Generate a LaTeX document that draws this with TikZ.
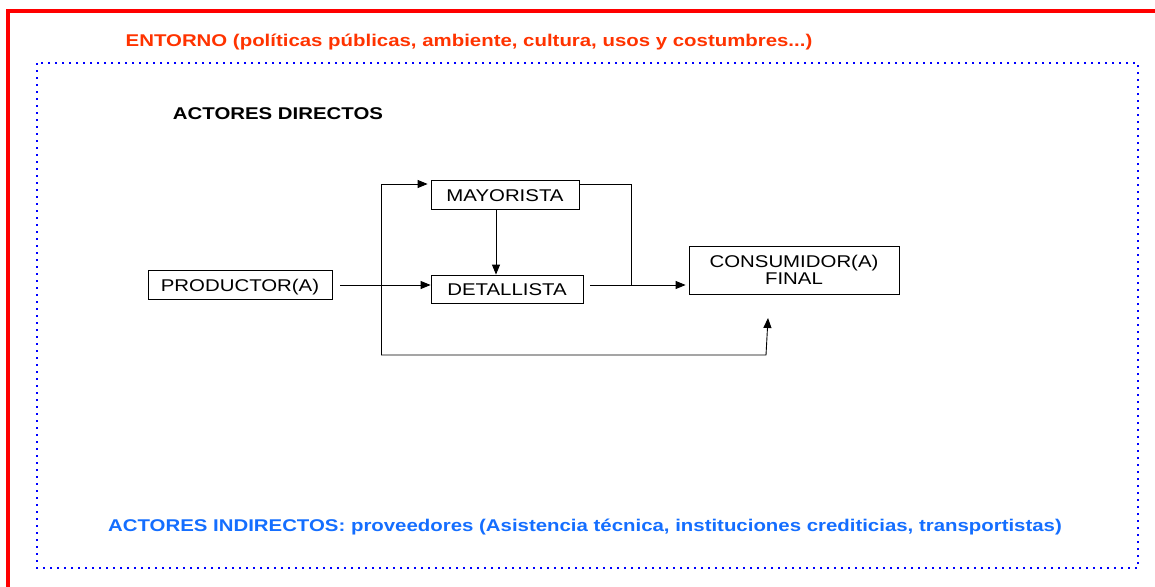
\documentclass[tikz,border=0pt]{standalone}
\usepackage{fontspec}
\setmainfont{Liberation Sans}[FakeStretch=1.2]
\usetikzlibrary{positioning,arrows.meta}
\definecolor{entorno}{RGB}{255,51,0}
\definecolor{indirecto}{RGB}{20,110,255}

\begin{document}
\begin{tikzpicture}[x=1pt, y=-1pt, >={Triangle[length=10pt,width=8pt]}]
            \tikzstyle{titulo}  = [font=\bfseries\fontsize{17}{18}\selectfont, inner sep=0pt]
            \tikzstyle{actor}   = [draw, line width=0.8pt, inner sep=0pt, minimum height=29pt, text height=12pt, text depth=0pt, font=\fontsize{17}{17}\selectfont]
            \tikzstyle{flujo}   = [draw, line width=0.9pt]
            \tikzstyle{marco}   = [draw=red, line width=3.6pt]
            \tikzstyle{entorno} = [draw=blue, line width=2pt, dash pattern=on 2pt off 5pt]

            \useasboundingbox (0,0) rectangle (1155,586);
            \begin{scope}
                \clip (0,0) rectangle (1155,586);
                \draw[marco] (8,11) rectangle (1200,640);
            \end{scope}
            \draw[entorno] (37,63) rectangle (1138,568);

            \node[titulo, text=entorno] (entorno) at (469,42) {ENTORNO (políticas públicas, ambiente, cultura, usos y costumbres...)};
            \node[titulo] (directos) at (278,114) {ACTORES DIRECTOS};
            \node[titulo, text=indirecto] (indirectos) at (585,527) {ACTORES INDIRECTOS: proveedores (Asistencia técnica, instituciones crediticias, transportistas)};

            \node[actor, minimum width=184pt] (productor) at (240,285) {PRODUCTOR(A)};
            \node[actor, minimum width=148pt] (mayorista) at (505,195) {MAYORISTA};
            \node[actor, minimum width=152pt, minimum height=28pt] (detallista) at (507,289) {DETALLISTA};
            \node[actor, minimum width=210pt, minimum height=48pt, text height=, text depth=, align=center] (consumidor) at (794,270) {CONSUMIDOR(A)\\FINAL};

            \draw[flujo, ->, shorten <=8pt] (productor.east) -- (productor.east -| detallista.west);
            \draw[flujo, ->] ([xshift=-9pt]mayorista.south) -- ([xshift=-11pt]detallista.north);
            \draw[flujo, ->, shorten <=7pt, shorten >=3pt] ([yshift=4pt]detallista.east) -- ([yshift=4pt]detallista.east -| consumidor.west);

            % Enlace mayorista
            \coordinate (union) at (631,285);
            \draw[flujo] ([yshift=11pt]mayorista.east) -| (union);

            % Venta directa
            \coordinate (esquina) at (381,355);
            \coordinate (retorno) at (766,355);
            \coordinate (llegada) at (768,318);
            \draw[flujo, ->, shorten >=3pt] (esquina) |- ([yshift=11pt]mayorista.west);
            \draw[flujo, ->] (esquina) -- (retorno) -- (llegada);
        \end{tikzpicture}
\end{document}
